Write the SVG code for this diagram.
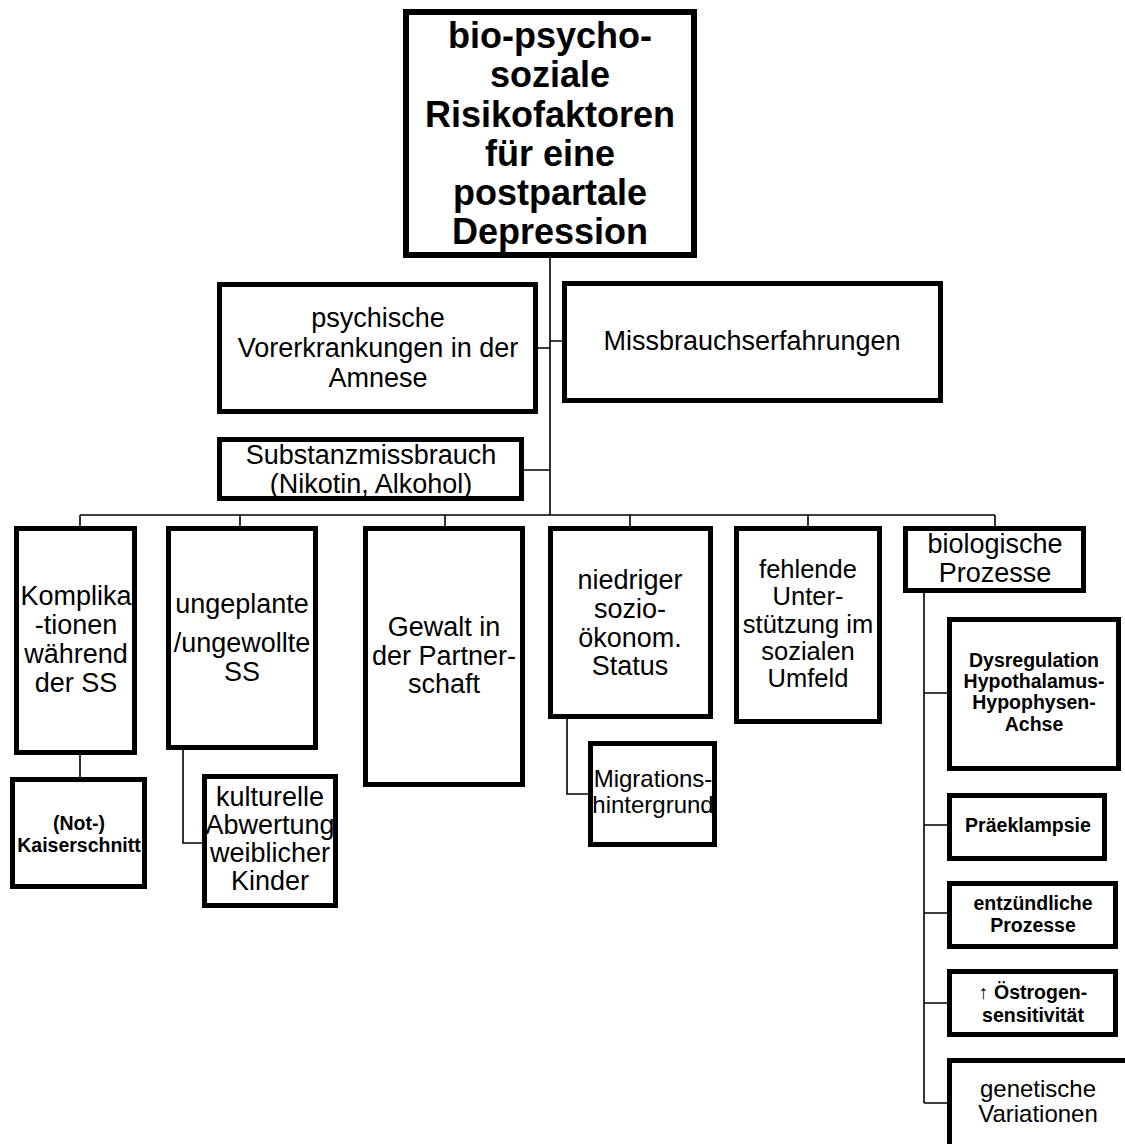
<svg xmlns="http://www.w3.org/2000/svg" width="1125" height="1144" viewBox="0 0 1125 1144">
<style>
.box{fill:#fff;stroke:#000;stroke-width:5}
.top{stroke-width:6}
.con{fill:none;stroke:#000;stroke-width:1.6}
text{font-family:"Liberation Sans",Arial,sans-serif;text-anchor:middle;fill:#000}
.h{font-size:36px;font-weight:bold}
.m{font-size:27px}
.f{font-size:25.5px}
.s{font-size:19.5px;font-weight:bold}
.g{font-size:24px}
</style>
<rect width="1125" height="1144" fill="#fff"/>
<g id="connectors">
<path class="con" d="M550 258V515M538 348H550M550 341H562M524 470H550M80 515H995M80 515V526M240 515V526M445 515V526M630 515V526M808 515V526M995 515V526M80 755V777M183 750V843H202M567 719V794H588M924 593V1103M924 693H947M924 825H947M924 913H947M924 1003H947M924 1103H947"/>
</g>
<g id="root">
<rect class="box top" x="406" y="12" width="288" height="243"/>
<text class="h"><tspan x="550" y="48">bio-psycho-</tspan><tspan x="550" y="87">soziale</tspan><tspan x="550" y="127">Risikofaktoren</tspan><tspan x="550" y="166">für eine</tspan><tspan x="550" y="205">postpartale</tspan><tspan x="550" y="244">Depression</tspan></text>
</g>
<g id="psychische">
<rect class="box" x="219.5" y="284.5" width="316" height="127"/>
<text class="m"><tspan x="378" y="327">psychische</tspan><tspan x="378" y="357">Vorerkrankungen in der</tspan><tspan x="378" y="387">Amnese</tspan></text>
</g>
<g id="missbrauch">
<rect class="box" x="564.5" y="283.5" width="376" height="117"/>
<text class="m" x="752" y="350">Missbrauchserfahrungen</text>
</g>
<g id="substanz">
<rect class="box" x="219.5" y="439.5" width="302" height="59"/>
<text class="m"><tspan x="371" y="464">Substanzmissbrauch</tspan><tspan x="371" y="493">(Nikotin, Alkohol)</tspan></text>
</g>
<g id="komplikationen">
<rect class="box" x="16.5" y="528.5" width="118" height="224"/>
<text class="m"><tspan x="76" y="605">Komplika</tspan><tspan x="76" y="634">-tionen</tspan><tspan x="76" y="663">während</tspan><tspan x="76" y="692">der SS</tspan></text>
</g>
<g id="ungeplante">
<rect class="box" x="168.5" y="528.5" width="147" height="219"/>
<text class="m"><tspan x="242" y="613">ungeplante</tspan><tspan x="242" y="652">/ungewollte</tspan><tspan x="242" y="681">SS</tspan></text>
</g>
<g id="gewalt">
<rect class="box" x="365.5" y="528.5" width="157" height="256"/>
<text class="m"><tspan x="444" y="636">Gewalt in</tspan><tspan x="444" y="665">der Partner-</tspan><tspan x="444" y="693">schaft</tspan></text>
</g>
<g id="niedriger">
<rect class="box" x="550.5" y="528.5" width="160" height="188"/>
<text class="m"><tspan x="630" y="589">niedriger</tspan><tspan x="630" y="618">sozio-</tspan><tspan x="630" y="647">ökonom.</tspan><tspan x="630" y="675">Status</tspan></text>
</g>
<g id="fehlende">
<rect class="box" x="736.5" y="528.5" width="143" height="193"/>
<text class="f"><tspan x="808" y="578">fehlende</tspan><tspan x="808" y="605">Unter-</tspan><tspan x="808" y="633">stützung im</tspan><tspan x="808" y="660">sozialen</tspan><tspan x="808" y="687">Umfeld</tspan></text>
</g>
<g id="biologische">
<rect class="box" x="905.5" y="528.5" width="178" height="62"/>
<text class="m"><tspan x="995" y="553">biologische</tspan><tspan x="995" y="582">Prozesse</tspan></text>
</g>
<g id="kaiserschnitt">
<rect class="box" x="12.5" y="779.5" width="132" height="107"/>
<text class="s"><tspan x="79" y="830">(Not-)</tspan><tspan x="79" y="852">Kaiserschnitt</tspan></text>
</g>
<g id="kulturelle">
<rect class="box" x="204.5" y="776.5" width="131" height="129"/>
<text class="m"><tspan x="270" y="806">kulturelle</tspan><tspan x="270" y="834">Abwertung</tspan><tspan x="270" y="862">weiblicher</tspan><tspan x="270" y="890">Kinder</tspan></text>
</g>
<g id="migration">
<rect class="box" x="590.5" y="743.5" width="124" height="101"/>
<text class="g"><tspan x="653" y="787">Migrations-</tspan><tspan x="653" y="813">hintergrund</tspan></text>
</g>
<g id="dysregulation">
<rect class="box" x="949.5" y="619.5" width="169" height="149"/>
<text class="s"><tspan x="1034" y="667">Dysregulation</tspan><tspan x="1034" y="688">Hypothalamus-</tspan><tspan x="1034" y="709">Hypophysen-</tspan><tspan x="1034" y="731">Achse</tspan></text>
</g>
<g id="praeeklampsie">
<rect class="box" x="949.5" y="795.5" width="155" height="63"/>
<text class="s" x="1028" y="832">Präeklampsie</text>
</g>
<g id="entzuendlich">
<rect class="box" x="949.5" y="883.5" width="166" height="63"/>
<text class="s"><tspan x="1033" y="910">entzündliche</tspan><tspan x="1033" y="932">Prozesse</tspan></text>
</g>
<g id="oestrogen">
<rect class="box" x="949.5" y="971.5" width="166" height="63"/>
<text class="s"><tspan x="1033" y="999">↑ Östrogen-</tspan><tspan x="1033" y="1022">sensitivität</tspan></text>
</g>
<g id="genetisch">
<rect class="box" x="949.5" y="1060.5" width="185" height="90"/>
<text class="g"><tspan x="1038" y="1097">genetische</tspan><tspan x="1038" y="1122">Variationen</tspan></text>
</g>
</svg>
